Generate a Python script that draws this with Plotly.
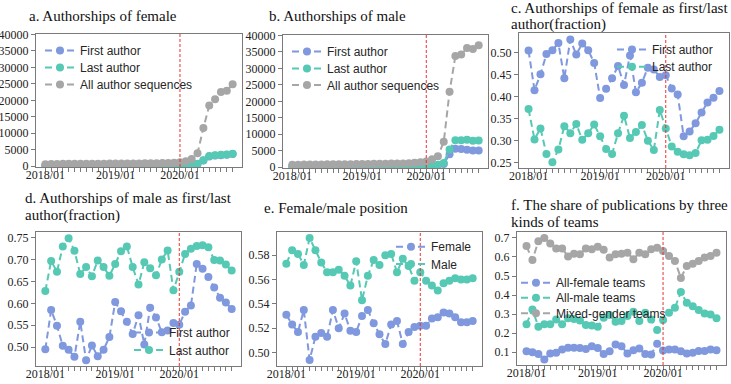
import plotly.graph_objects as go

W, H = 731, 384

# ---------------- data ----------------
n_months = 33
tick_pos = [0, 12, 23]
tick_text = ["2018/01", "2019/01", "2020/01"]
policy_idx = 23

fem_first_cnt = [200, 210, 220, 230, 240, 240, 230, 250, 240, 250, 250, 250, 230, 240, 250, 260, 250,
                 270, 250, 260, 280, 290, 300, 340, 380, 470, 650, 1700, 2950, 3250, 3350, 3450, 3700]
fem_last_cnt = [160, 170, 175, 170, 165, 180, 190, 185, 195, 180, 190, 200, 185, 180, 180, 200, 215,
                195, 205, 215, 210, 205, 260, 300, 330, 420, 700, 1800, 3100, 3350, 3450, 3550, 3800]
fem_all_cnt = [620, 680, 690, 700, 720, 700, 740, 720, 740, 760, 770, 790, 780, 800, 810, 830, 850,
               870, 860, 900, 940, 990, 1060, 1200, 1500, 2200, 3900, 11600, 18400, 20300, 22500, 22900, 24900]

male_first_cnt = [230, 270, 260, 240, 240, 230, 260, 230, 250, 240, 240, 260, 300, 290, 280, 270, 290,
                  260, 300, 290, 280, 290, 300, 330, 420, 600, 1000, 3900, 5600, 5500, 5300, 5100, 5100]
male_last_cnt = [300, 330, 330, 350, 360, 350, 340, 360, 350, 370, 360, 350, 360, 380, 390, 370, 350,
                 380, 380, 370, 400, 420, 380, 420, 500, 700, 1300, 5400, 8200, 8200, 8300, 8000, 8100]
male_all_cnt = [700, 750, 790, 810, 830, 850, 860, 870, 890, 900, 920, 940, 980, 1000, 1010, 1030, 1050,
                1080, 1100, 1150, 1220, 1380, 1500, 1700, 2400, 3300, 7700, 22900, 33800, 34200, 36200, 35900, 37000]

fem_first_frac = [0.505, 0.415, 0.451, 0.497, 0.506, 0.522, 0.442, 0.530, 0.496, 0.521, 0.506, 0.477,
                  0.397, 0.418, 0.442, 0.470, 0.427, 0.494, 0.410, 0.432, 0.466, 0.462, 0.445, 0.449,
                  0.419, 0.405, 0.310, 0.321, 0.340, 0.364, 0.387, 0.398, 0.413]
fem_last_frac = [0.372, 0.303, 0.328, 0.270, 0.251, 0.280, 0.333, 0.317, 0.338, 0.302, 0.317, 0.337,
                 0.310, 0.281, 0.270, 0.317, 0.357, 0.306, 0.320, 0.336, 0.300, 0.279, 0.370, 0.328,
                 0.287, 0.275, 0.269, 0.267, 0.272, 0.301, 0.302, 0.311, 0.325]
male_first_frac = [0.495, 0.585, 0.549, 0.503, 0.494, 0.478, 0.558, 0.470, 0.504, 0.479, 0.494, 0.523,
                   0.603, 0.582, 0.558, 0.530, 0.573, 0.506, 0.590, 0.568, 0.534, 0.538, 0.555, 0.551,
                   0.581, 0.595, 0.690, 0.679, 0.660, 0.636, 0.613, 0.602, 0.587]
male_last_frac = [0.628, 0.697, 0.672, 0.730, 0.749, 0.720, 0.667, 0.683, 0.662, 0.698, 0.683, 0.663,
                  0.690, 0.719, 0.730, 0.683, 0.643, 0.694, 0.680, 0.664, 0.700, 0.721, 0.630, 0.672,
                  0.713, 0.725, 0.731, 0.733, 0.728, 0.699, 0.698, 0.689, 0.675]

pos_female = [0.531, 0.523, 0.517, 0.535, 0.494, 0.513, 0.516, 0.513, 0.535, 0.520, 0.532, 0.518,
              0.517, 0.530, 0.535, 0.524, 0.515, 0.507, 0.523, 0.526, 0.507, 0.517, 0.521, 0.522,
              0.522, 0.528, 0.529, 0.533, 0.532, 0.529, 0.525, 0.525, 0.526]
pos_male = [0.573, 0.584, 0.581, 0.572, 0.594, 0.584, 0.574, 0.566, 0.566, 0.568, 0.563, 0.555,
            0.575, 0.543, 0.563, 0.576, 0.572, 0.580, 0.581, 0.566, 0.577, 0.571, 0.559, 0.566,
            0.559, 0.555, 0.551, 0.557, 0.559, 0.561, 0.560, 0.560, 0.561]

team_female = [0.105, 0.100, 0.091, 0.062, 0.093, 0.097, 0.114, 0.124, 0.124, 0.122, 0.117, 0.131,
               0.122, 0.091, 0.105, 0.140, 0.131, 0.093, 0.110, 0.119, 0.091, 0.088, 0.145, 0.109,
               0.114, 0.114, 0.105, 0.093, 0.097, 0.107, 0.107, 0.114, 0.110]
team_male = [0.247, 0.324, 0.234, 0.247, 0.247, 0.272, 0.247, 0.278, 0.274, 0.266, 0.243, 0.240,
             0.234, 0.281, 0.295, 0.260, 0.264, 0.290, 0.312, 0.264, 0.307, 0.272, 0.217, 0.269,
             0.307, 0.334, 0.416, 0.360, 0.341, 0.321, 0.303, 0.298, 0.278]
team_mixed = [0.657, 0.584, 0.683, 0.700, 0.671, 0.645, 0.645, 0.602, 0.617, 0.614, 0.645, 0.640,
              0.653, 0.638, 0.597, 0.614, 0.617, 0.622, 0.588, 0.622, 0.614, 0.640, 0.648, 0.631,
              0.605, 0.579, 0.490, 0.553, 0.564, 0.579, 0.597, 0.605, 0.622]

# ---------------- style ----------------
BLUE = "#7f98de"
TEAL = "#56c9b5"
GRAY = "#a6a6a6"
RED = "#e8332e"
FRAME = "#7a7a7a"
SERIF = "Liberation Serif, Times New Roman, serif"
SANS = "Liberation Sans, Arial, sans-serif"

x = list(range(n_months))

# panel domains in pixels: (left, right, top, bottom)
panels = [
    (36, 242, 34, 167),
    (283, 488, 35, 168),
    (519, 729, 33, 168),
    (36, 241, 232, 366),
    (277, 482, 232, 366),
    (517, 726, 232, 365),
]
yranges = [[-250, 40150], [-250, 40150], [0.238, 0.545], [0.457, 0.763], [0.489, 0.599], [0.033, 0.731]]
ytickvals = [
    list(range(0, 40001, 5000)), list(range(0, 40001, 5000)),
    [0.25, 0.30, 0.35, 0.40, 0.45, 0.50],
    [0.50, 0.55, 0.60, 0.65, 0.70, 0.75],
    [0.50, 0.52, 0.54, 0.56, 0.58],
    [0.1, 0.2, 0.3, 0.4, 0.5, 0.6, 0.7],
]
ytickfmt = ["d", "d", ".2f", ".2f", ".2f", ".1f"]

# series per panel: (values, name, color, legend marker px x, legend row px y)
series = [
    [(fem_first_cnt, "First author", BLUE, 60, 50.5),
     (fem_last_cnt, "Last author", TEAL, 60, 67.5),
     (fem_all_cnt, "All author sequences", GRAY, 60, 84.5)],
    [(male_first_cnt, "First author", BLUE, 307, 51.5),
     (male_last_cnt, "Last author", TEAL, 307, 68.5),
     (male_all_cnt, "All author sequences", GRAY, 307, 85)],
    [(fem_first_frac, "First author", BLUE, 632, 49.5),
     (fem_last_frac, "Last author", TEAL, 632, 66.7)],
    [(male_first_frac, "First author", BLUE, 149, 332.5),
     (male_last_frac, "Last author", TEAL, 149, 350)],
    [(pos_female, "Female", BLUE, 411, 246.7),
     (pos_male, "Male", TEAL, 411, 264)],
    [(team_female, "All-female teams", BLUE, 536, 282.7),
     (team_male, "All-male teams", TEAL, 536, 297.7),
     (team_mixed, "Mixed-gender teams", GRAY, 536, 313.3)],
]

titles = [
    [("a. Authorships of female", 27, 16)],
    [("b. Authorships of male", 267, 16)],
    [("c. Authorships of female as first/last", 509, 8.5), ("author(fraction)", 509, 24.5)],
    [("d. Authorships of male as first/last", 23, 198), ("author(fraction)", 23, 215)],
    [("e. Female/male position", 262, 208)],
    [("f. The share of publications by three", 509, 205), ("kinds of teams", 509, 222)],
]

fig = go.Figure()
layout = dict(
    width=W, height=H, margin=dict(l=0, r=0, t=0, b=0, autoexpand=False),
    paper_bgcolor="white", plot_bgcolor="white", showlegend=True,
    annotations=[], shapes=[],
)

leg_count = 0
for i, (l, r, t, b) in enumerate(panels):
    k = "" if i == 0 else str(i + 1)
    xa, ya = "x" + k, "y" + k
    layout["xaxis" + k] = dict(
        domain=[l / W, r / W], anchor=ya, range=[-1.6, 33.6], automargin=False,
        tickmode="array", tickvals=tick_pos, ticktext=tick_text,
        ticks="outside", ticklen=4, tickwidth=1, tickcolor=FRAME, ticklabelstandoff=-8,
        minor=dict(tickmode="array", tickvals=x, ticks="outside", ticklen=4,
                   tickwidth=1, tickcolor=FRAME, showgrid=False),
        showline=True, mirror=True, linecolor=FRAME, linewidth=1.2,
        showgrid=False, zeroline=False,
        tickfont=dict(family=SERIF, size=12, color="#222222"),
    )
    layout["yaxis" + k] = dict(
        domain=[1 - b / H, 1 - t / H], anchor=xa, range=yranges[i], automargin=False,
        tickmode="array", tickvals=ytickvals[i], tickformat=ytickfmt[i],
        ticks="outside", ticklen=4, tickwidth=1, tickcolor=FRAME,
        showline=True, mirror=True, linecolor=FRAME, linewidth=1.2,
        showgrid=False, zeroline=False,
        tickfont=dict(family=SERIF, size=12, color="#222222"),
    )
    for vals, name, col, mx, my in series[i]:
        leg_count += 1
        lk = "legend" if leg_count == 1 else "legend" + str(leg_count)
        fig.add_trace(go.Scatter(
            x=x, y=vals, name=name, mode="lines+markers",
            line=dict(color=col, width=2, dash="7px,4px"),
            marker=dict(color=col, size=8, line=dict(width=0)),
            xaxis=xa, yaxis=ya, legend=lk,
        ))
        layout[lk] = dict(
            x=(mx - 20) / W, y=1 - my / H, xanchor="left", yanchor="middle",
            bgcolor="rgba(0,0,0,0)", borderwidth=0,
            font=dict(family=SANS, size=12, color="#262626"),
            itemwidth=30, tracegroupgap=0,
        )
    layout["shapes"].append(dict(
        type="line", xref=xa, yref=ya + " domain", x0=policy_idx, x1=policy_idx, y0=0, y1=1,
        line=dict(color=RED, width=1, dash="3px,2px"),
    ))
    for txt, px, py in titles[i]:
        layout["annotations"].append(dict(
            text=txt, xref="paper", yref="paper", x=px / W, y=1 - py / H,
            xanchor="left", yanchor="middle", showarrow=False,
            font=dict(family=SERIF, size=15, color="#111111"),
        ))

fig.update_layout(**layout)
fig.write_html("out.html", config={"displayModeBar": False},
               post_script="document.body.style.margin='0';document.body.style.padding='0';")
